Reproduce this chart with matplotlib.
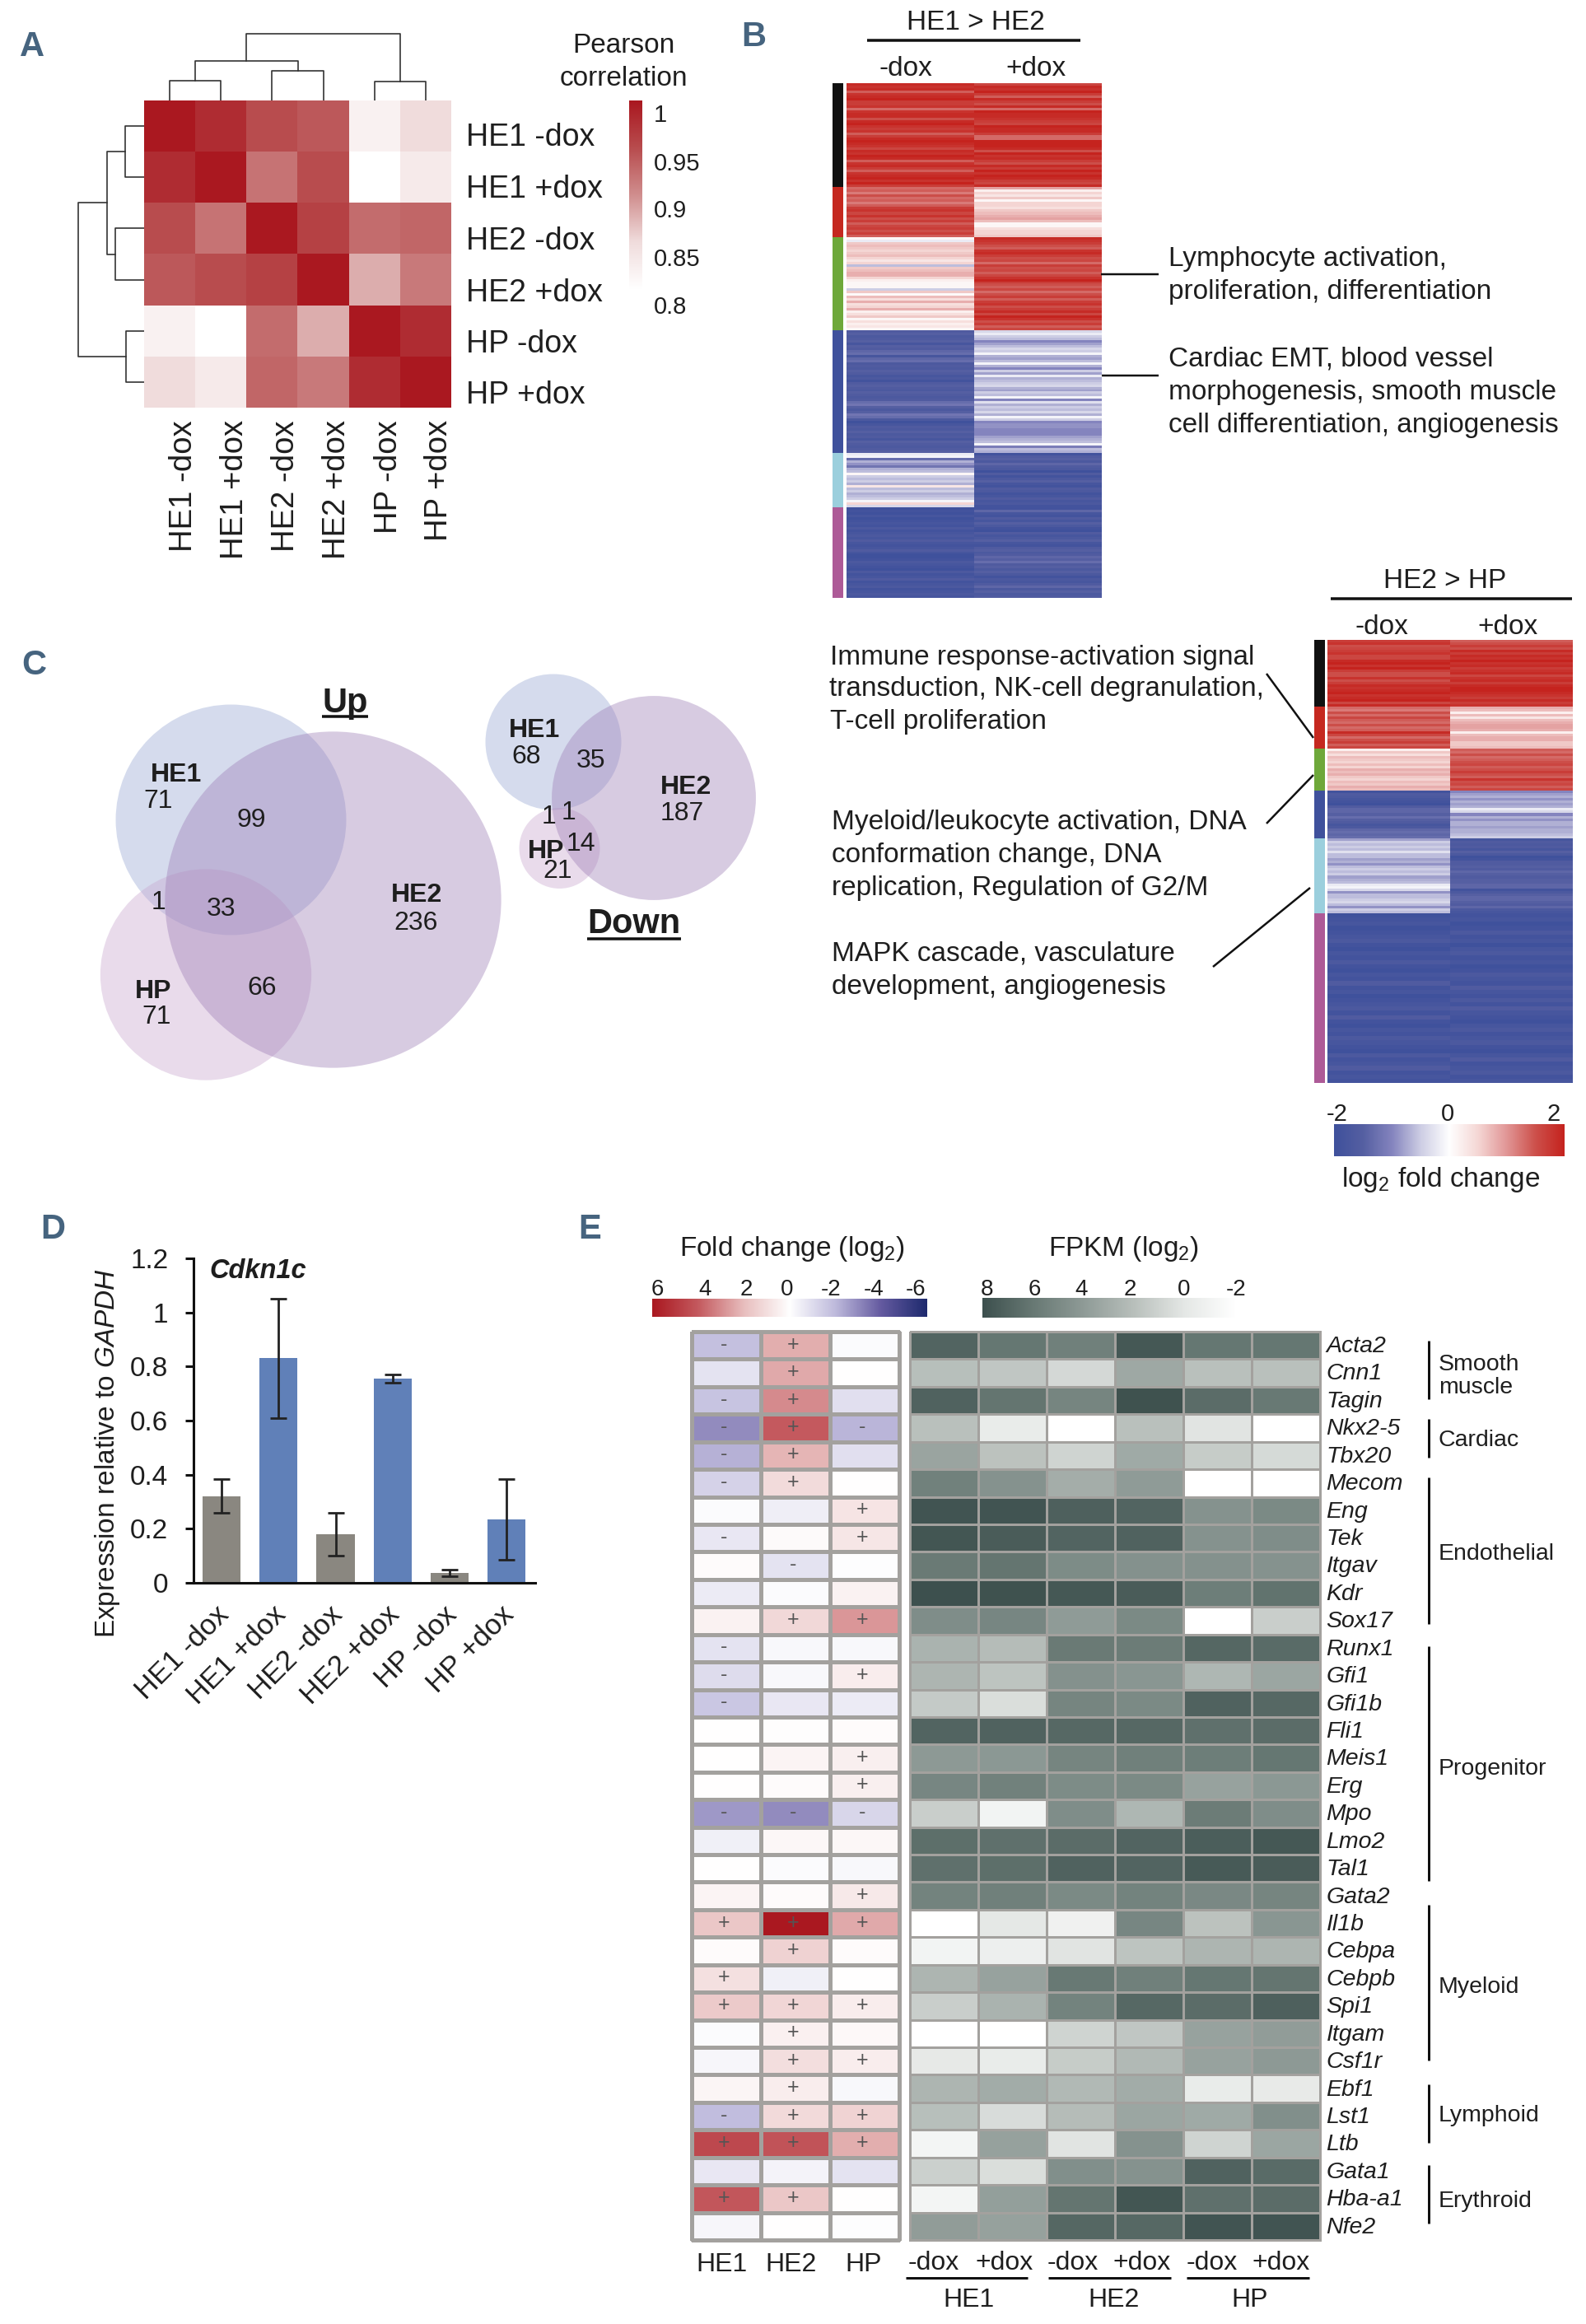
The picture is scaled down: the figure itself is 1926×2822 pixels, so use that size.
"""Composite figure: correlation heatmap, cluster heatmaps, Venn diagrams, qPCR bars, gene table."""
import numpy as np
import matplotlib
matplotlib.use("Agg")
import matplotlib.pyplot as plt
from matplotlib.colors import LinearSegmentedColormap
from matplotlib.patches import Ellipse
from matplotlib.transforms import ScaledTranslation

plt.rcParams['font.family'] = ['Liberation Sans', 'DejaVu Sans']
plt.rcParams['mathtext.fontset'] = 'custom'
plt.rcParams['mathtext.rm'] = 'Liberation Sans'
plt.rcParams['mathtext.it'] = 'Liberation Sans:italic'
plt.rcParams['mathtext.bf'] = 'Liberation Sans:bold'

W, H, DPI = 1926, 2822, 100

# --- Panel A
samples = ['HE1 -dox', 'HE1 +dox', 'HE2 -dox', 'HE2 +dox', 'HP -dox', 'HP +dox']
pearson = [
    [1.00, 0.98, 0.95, 0.94, 0.82, 0.85],
    [0.98, 1.00, 0.92, 0.95, 0.80, 0.83],
    [0.95, 0.92, 1.00, 0.96, 0.925, 0.93],
    [0.94, 0.95, 0.96, 1.00, 0.88, 0.915],
    [0.82, 0.80, 0.925, 0.88, 1.00, 0.98],
    [0.85, 0.83, 0.93, 0.915, 0.98, 1.00],
]
# merge heights of the dendrograms: HE1 pair, HE2 pair, HE1+HE2, HP pair, root
dendro_top = [24, 36, 48, 23, 81]
dendro_left = [23, 35, 45, 22, 80]
pearson_ticks = ['1', '0.95', '0.9', '0.85', '0.8']

# --- Panel B/C cluster heatmaps (log2 fold change per row stripe)
b_sizes = [126, 61, 113, 149, 66, 110]
b_minus = [
    [1.9, 1.8, 1.9, 1.4, 1.8, 1.9, 2.0, 1.7, 1.7, 1.8, 1.3, 1.8, 1.9, 1.9, 1.5, 1.9, 2.0, 1.8, 1.7, 1.8, 1.4,
     1.7, 1.9, 2.0, 1.9, 1.8, 1.6, 1.9, 1.8, 2.0, 1.9, 1.4, 1.8, 1.9, 1.7, 1.4, 1.8, 1.9, 2.0, 1.8, 2.0, 1.7],
    [1.3, 1.4, 1.2, 1.5, 1.3, 1.4, 1.2, 1.4, 1.7, 1.8, 1.6, 1.8, 1.5, 1.7, 1.4, 1.6, 1.7, 1.5, 1.7, 1.4],
    [0.1, -0.2, 0.6, 0.7, 0.6, 0.5, 0.6, 0.7, 0.5, 0.3, 0.5, -0.6, 0.6, 0.7, 0.8, 0.8, 0.5, 0.2, 0.1, 0.1,
     0.1, -0.5, 0.6, 0.05, 0.7, 0.4, 0.8, 0.4, 0.5, 0.8, 0.2, 0.4, 0.6, 0.1, 0.4, 0.2, 0.3, 0.1],
    [-1.6, -1.5, -1.7, -1.6, -1.5, -1.8, -1.5, -1.6, -1.4, -1.3, -1.8, -1.4, -1.3, -1.7, -1.6, -1.7, -1.5, -1.6, -1.8,
     -1.7, -1.9, -1.6, -1.5, -1.6, -1.7, -1.5, -1.6, -1.7, -1.6, -1.3, -1.2, -1.5, -1.7, -1.5, -1.2, -1.3, -1.7, -2.0,
     -1.8, -1.6, -1.7, -1.5, -1.7, -1.6, -1.8, -1.5, -1.6, -1.7, -1.6, -1.5],
    [-0.2, -0.1, -1.3, -0.7, -0.9, -1.2, -0.7, -0.6, 0.1, -0.5, -0.6, -0.5, -0.7, 0.3, -0.6, -0.5, -0.7, -0.6, -0.5,
     -0.1, 0.5, -0.4],
    [-2.0, -1.9, -2.0, -1.8, -2.0, -1.9, -1.8, -1.9, -1.7, -1.9, -1.8, -1.7, -1.8, -1.6, -1.8, -1.9, -1.8, -1.6, -1.8,
     -2.0, -2.0, -1.9, -1.7, -1.8, -1.9, -2.0, -1.7, -1.9, -1.8, -1.6, -1.9, -1.8, -1.7, -1.9, -1.8, -1.7, -1.8],
]
b_plus = [
    [1.6, 1.9, 1.8, 2.0, 1.7, 1.4, 1.9, 1.7, 1.5, 1.9, 1.3, 2.0, 1.9, 1.9, 1.8, 1.7, 1.6, 2.0, 1.9, 1.9, 1.7,
     1.3, 1.3, 2.0, 2.0, 2.0, 1.9, 1.5, 2.0, 1.8, 1.9, 1.7, 1.5, 1.9, 1.7, 2.0, 1.8, 2.0, 1.9, 1.7, 1.6, 1.9],
    [0.9, 0.2, 0.5, 0.3, 0.6, 0.1, 0.5, 0.5, 0.4, 0.6, 0.7, 0.8, 0.9, 0.7, 0.1, 0.1, 0.4, 0.5, 0.5, 0.6],
    [1.9, 1.8, 1.7, 1.5, 1.4, 1.8, 1.9, 1.7, 1.5, 1.6, 1.3, 1.7, 1.5, 1.6, 1.4, 1.6, 1.8, 2.0, 1.7, 1.5,
     1.4, 1.6, 1.3, 1.5, 1.7, 1.4, 1.7, 1.8, 1.5, 1.7, 1.9, 1.6, 2.0, 1.8, 1.5, 1.7, 1.4, 1.6],
    [-0.4, -0.2, -0.5, -0.6, -1.0, -0.8, -0.6, -0.4, -0.5, -0.1, -0.7, -0.8, -0.6, -0.1, -0.7, -1.0, -0.5, -0.8, -0.2,
     -0.7, -0.6, -0.5, -0.4, -0.7, -0.8, -0.5, -0.6, -0.1, -1.0, -0.3, -0.7, -0.5, -0.6, -0.4, -0.7, -0.1, -0.5, -1.0,
     -0.9, -0.9, -1.0, -1.0, -1.0, -0.8, -0.7, -0.6, -0.1, -1.1, -0.6, -0.7],
    [-1.9, -1.6, -1.5, -1.7, -1.4, -1.6, -1.7, -2.0, -1.6, -1.9, -1.7, -1.5, -1.8, -1.9, -1.6, -1.7, -1.9, -1.8, -1.6,
     -1.8, -1.7, -1.9],
    [-1.9, -1.4, -1.8, -1.9, -1.6, -1.8, -1.5, -1.7, -1.9, -2.0, -1.6, -1.8, -1.7, -1.5, -1.8, -1.9, -1.6, -1.5, -1.7,
     -1.6, -1.4, -1.5, -1.3, -1.6, -1.5, -1.7, -1.5, -1.7, -1.9, -1.7, -1.8, -1.6, -1.4, -1.7, -1.5, -1.7, -1.6],
]
c_sizes = [81, 51, 51, 58, 91, 206]
c_minus = [
    [1.7, 1.8, 1.5, 1.6, 1.7, 1.8, 1.6, 1.6, 1.9, 2.0, 1.8, 2.0, 1.7, 1.5, 1.5, 1.8, 1.5, 1.7, 1.9, 1.8, 1.9,
     2.0, 1.8, 1.9, 2.0, 1.6, 1.9],
    [1.3, 1.2, 1.5, 1.3, 1.6, 1.4, 1.3, 1.5, 1.3, 1.4, 1.9, 1.6, 1.3, 1.5, 1.7, 1.4, 1.6],
    [0.2, 0.6, 0.4, 0.7, 0.6, 0.5, 0.7, 0.5, 0.8, 0.7, 0.8, 0.6, 0.5, 0.7, 0.6, 0.8, 0.7],
    [-1.9, -1.6, -1.7, -1.8, -1.9, -2.0, -1.6, -1.4, -1.4, -1.5, -1.3, -1.5, -1.6, -1.8, -1.7, -1.4, -1.3, -1.4, -1.3],
    [-0.8, -0.5, -0.6, -0.5, -0.6, -0.3, -0.6, -0.6, -0.8, -0.7, -0.9, -0.6, -0.5, -0.6, -0.5, -0.8, -0.7, -0.6, -0.2,
     -0.1, -0.4, -0.9, -0.6, -0.6, -0.5, -0.4, -0.6, -0.9, -0.5, -0.6],
    [-2.0, -1.9, -1.8, -2.0, -1.9, -1.8, -1.7, -1.9, -2.0, -1.8, -1.9, -1.7, -1.9, -2.0, -1.8, -1.9, -1.6, -1.9, -1.8,
     -2.0, -1.9, -1.8, -1.7, -1.9, -1.6, -1.9, -2.0, -1.8, -1.9, -1.7, -1.8, -1.9, -2.0, -1.7, -1.9, -1.8, -1.6, -1.9,
     -1.8, -1.9],
]
c_plus = [
    [1.4, 1.5, 1.7, 1.5, 1.9, 1.7, 1.9, 1.8, 2.0, 1.8, 1.9, 1.7, 1.8, 1.9, 1.6, 1.8, 1.9, 1.7, 1.9, 2.0, 2.0,
     1.9, 1.8, 1.7, 1.9, 1.7, 1.8],
    [0.8, 0.7, 0.2, 0.7, 0.3, 0.7, 0.8, 0.9, 0.9, 0.8, 0.2, 0.7, 0.8, 0.8, 0.6, 0.6, 0.7],
    [1.4, 1.3, 1.5, 1.3, 1.4, 1.5, 1.6, 1.4, 1.5, 1.7, 1.5, 1.4, 1.8, 1.5, 1.6, 1.4, 1.6],
    [-1.0, -0.8, -0.7, -0.9, -0.7, -0.8, -0.7, -0.2, -0.4, -1.0, -0.7, -0.9, -0.7, -0.7, -0.8, -0.7, -0.7, -0.6, -0.5],
    [-1.8, -1.6, -1.7, -1.6, -1.8, -1.5, -1.7, -2.0, -1.9, -1.6, -1.6, -1.5, -1.6, -1.4, -1.5, -1.6, -1.5, -1.5, -1.4,
     -1.4, -1.9, -1.7, -1.5, -1.4, -1.4, -1.5, -1.6, -1.4, -1.7, -1.8],
    [-1.9, -1.8, -2.0, -1.9, -1.7, -1.9, -1.8, -2.0, -1.8, -1.7, -1.9, -1.8, -2.0, -1.9, -1.7, -1.8, -1.9, -1.6, -1.8,
     -1.9, -1.7, -1.9, -1.6, -1.8, -1.9, -2.0, -1.8, -1.7, -1.9, -1.8, -1.7, -1.9, -2.0, -1.8, -1.6, -1.9, -1.8, -1.7,
     -1.9, -1.8],
]
cluster_colors = ['#111111', '#c5281f', '#6ea83a', '#3f519c', '#9bcfdd', '#ad5a97']

# --- Panel C Venn counts
up_sets = {'HE1': 204, 'HE2': 434, 'HP': 171}
down_sets = {'HE1': 105, 'HE2': 237, 'HP': 37}

# --- Panel D
expr_means = [0.32, 0.83, 0.18, 0.755, 0.037, 0.235]
expr_err = [0.0625, 0.22, 0.078, 0.015, 0.012, 0.15]
expr_ticks = [0, 0.2, 0.4, 0.6, 0.8, 1, 1.2]
expr_ticklabels = ['0', '0.2', '0.4', '0.6', '0.8', '1', '1.2']

# --- Panel E
genes = ['Acta2', 'Cnn1', 'Tagin', 'Nkx2-5', 'Tbx20', 'Mecom', 'Eng', 'Tek', 'Itgav', 'Kdr', 'Sox17',
         'Runx1', 'Gfi1', 'Gfi1b', 'Fli1', 'Meis1', 'Erg', 'Mpo', 'Lmo2', 'Tal1', 'Gata2', 'Il1b',
         'Cebpa', 'Cebpb', 'Spi1', 'Itgam', 'Csf1r', 'Ebf1', 'Lst1', 'Ltb', 'Gata1', 'Hba-a1', 'Nfe2']
fold_change = [
    [-1.8, 2.3, -0.1], [-0.8, 2.4, 0.0], [-1.7, 3.0, -0.9], [-3.0, 4.0, -2.1], [-2.2, 2.2, -0.9],
    [-1.3, 1.1, 0.0], [-0.1, -0.5, 0.8], [-0.7, 0.15, 0.75], [0.12, -0.8, -0.05], [-0.6, -0.1, 0.4],
    [0.4, 1.2, 2.8], [-0.8, -0.2, -0.2], [-1.0, -0.2, 0.55], [-1.6, -0.7, -0.6], [0.0, 0.05, 0.1],
    [0.0, 0.35, 0.5], [0.0, 0.1, 0.5], [-2.7, -3.0, -1.2], [-0.45, 0.25, 0.25], [0.0, -0.1, -0.2],
    [0.35, 0.1, 0.7], [1.7, 6.0, 2.4], [0.1, 1.4, 0.1], [0.95, -0.45, 0.0], [1.6, 1.25, 0.55],
    [-0.1, 0.45, 0.2], [-0.25, 1.0, 0.55], [0.3, 0.55, -0.2], [-1.9, 1.15, 1.35], [4.5, 4.2, 2.3],
    [-0.7, -0.35, -0.8], [4.1, 1.7, 0.0], [-0.25, 0.0, -0.05],
]
fold_signs = ['-+ ', ' + ', '-+ ', '-+-', '-+ ', '-+ ', '  +', '- +', ' - ', '   ', ' ++',
              '-  ', '- +', '-  ', '   ', '  +', '  +', '---', '   ', '   ', '  +', '+++',
              ' + ', '+  ', '+++', ' + ', ' ++', ' + ', '-++', '+++', '   ', '++ ', '   ']
fpkm = [
    [7.0, 6.1, 5.6, 7.6, 6.1, 6.1], [2.1, 1.7, 0.8, 3.3, 2.0, 2.0], [7.1, 6.2, 5.3, 7.9, 6.6, 6.0],
    [2.0, -0.3, -2.0, 2.0, 0.2, -2.0], [3.5, 1.9, 1.0, 3.2, 1.4, 0.7], [5.5, 4.5, 3.0, 4.0, -2.0, -2.0],
    [7.8, 7.8, 7.2, 7.0, 4.5, 5.0], [7.7, 7.4, 7.0, 7.1, 4.5, 4.8], [5.9, 6.2, 4.9, 4.6, 4.6, 4.5],
    [8.0, 7.9, 7.6, 7.4, 5.7, 6.3], [4.8, 5.2, 4.0, 5.0, -2.0, 1.3], [2.7, 2.2, 5.9, 5.8, 6.9, 6.7],
    [2.6, 1.8, 4.6, 4.3, 2.5, 3.4], [1.5, 0.5, 5.3, 5.0, 7.1, 6.8], [7.0, 7.1, 6.8, 6.8, 6.4, 6.6],
    [4.1, 4.2, 5.3, 5.6, 5.7, 6.1], [5.2, 5.5, 4.9, 5.0, 3.6, 4.2], [1.3, -1.0, 4.8, 2.5, 5.8, 4.8],
    [6.5, 6.4, 6.6, 7.0, 7.3, 7.6], [6.4, 6.5, 7.1, 7.0, 7.5, 7.4], [5.4, 5.6, 5.0, 5.4, 5.1, 5.3],
    [-2.0, 0.0, -0.8, 5.2, 1.9, 4.3], [-1.0, -0.6, 0.2, 1.8, 2.6, 2.6], [2.6, 3.6, 6.0, 5.6, 6.1, 6.2],
    [1.3, 2.7, 5.4, 6.8, 6.6, 7.2], [-2.0, -2.0, 1.0, 1.7, 3.6, 3.9], [-0.1, -0.3, 1.4, 2.4, 3.6, 4.1],
    [2.6, 3.1, 2.4, 3.1, -0.3, -0.2], [2.1, 0.6, 2.2, 3.4, 3.2, 4.7], [-1.1, 3.7, 0.2, 4.5, 1.0, 3.4],
    [1.2, 0.5, 4.7, 4.5, 7.1, 6.7], [-1.1, 3.8, 6.2, 7.7, 6.4, 6.6], [3.9, 3.7, 6.9, 6.8, 7.8, 7.8],
]
gene_groups = ['Smooth\nmuscle', 'Cardiac', 'Endothelial', 'Progenitor', 'Myeloid', 'Lymphoid', 'Erythroid']

BLUE_LETTER = '#46647f'
INK = '#1e1e1e'
GRID = '#a3a19e'

corr_cmap = LinearSegmentedColormap.from_list('corr', [(0.0, '#ffffff'), (0.25, '#f0dcdc'), (0.5, '#d08e8e'),
                                                        (0.75, '#b84c4e'), (1.0, '#aa1820')])
fc_cmap = LinearSegmentedColormap.from_list('fc', [(0.0, '#3f519c'), (0.125, '#555fa2'), (0.25, '#8484be'), (0.375, '#cdcde4'),
                                                    (0.5, '#ffffff'), (0.625, '#f5d7d5'), (0.75, '#e19696'), (0.875, '#cd504b'),
                                                    (1.0, '#c5231e')])
fold_cmap = LinearSegmentedColormap.from_list('fold', [(0.0, '#1e2a6e'), (1 / 6, '#645aa0'), (1 / 3, '#bebadc'), (0.5, '#ffffff'),
                                                        (2 / 3, '#e8bebe'), (5 / 6, '#c45a5f'), (1.0, '#aa1820')])
fpkm_cmap = LinearSegmentedColormap.from_list('fpkm', [(0.0, '#ffffff'), (0.2, '#e5e8e6'), (0.4, '#b9c0bc'),
                                                        (0.6, '#8f9b97'), (0.8, '#687974'), (1.0, '#3d504e')])

fig = plt.figure(figsize=(W / DPI, H / DPI), dpi=DPI, facecolor='white')


def box(x0, y0, x1, y1, **kw):
    # axes from pixel corners, y counted from the top of the image
    ax = fig.add_axes([x0 / W, 1 - y1 / H, (x1 - x0) / W, (y1 - y0) / H], **kw)
    return ax


canvas = fig.add_axes([0, 0, 1, 1], zorder=10)
canvas.set_xlim(0, W)
canvas.set_ylim(H, 0)
canvas.axis('off')
canvas.patch.set_alpha(0)


def label(x, y, s, size=24, ha='left', va='center', **kw):
    kw.setdefault('color', INK)
    return canvas.text(x, y + 3, s, fontsize=size, ha=ha, va=va, **kw)


def rule(x0, y0, x1, y1, px=3.5, color='#111111'):
    canvas.plot([x0, x1], [y0, y1], color=color, lw=px * 0.72, solid_capstyle='butt')


for letter, x, y in [('A', 24, 57), ('B', 900, 45), ('C', 26, 808), ('D', 49, 1493), ('E', 702, 1493)]:
    canvas.text(x, y, letter, fontsize=30, fontweight='bold', color=BLUE_LETTER, ha='left', va='center',
                family=['Liberation Sans Narrow', 'Liberation Sans'])

# ---------------- Panel A
ax = box(175, 122, 548, 495)
ax.imshow(np.array(pearson), cmap=corr_cmap, vmin=0.8, vmax=1.0, aspect='auto', interpolation='nearest')
ax.axis('off')


def dendrogram(ax, h, horizontal=False):
    # tree shape is fixed: (0,1) (2,3) -> joined, (4,5), then root
    h_a, h_b, h_ab, h_c, h_root = h
    a, b, c = 1.0, 3.0, 5.0
    ab = (a + b) / 2
    root = (ab + c) / 2
    segs = [([0.5, 0.5, 1.5, 1.5], [0, h_a, h_a, 0]),
            ([2.5, 2.5, 3.5, 3.5], [0, h_b, h_b, 0]),
            ([a, a, b, b], [h_a, h_ab, h_ab, h_b]),
            ([4.5, 4.5, 5.5, 5.5], [0, h_c, h_c, 0]),
            ([ab, ab, c, c], [h_ab, h_root, h_root, h_c])]
    for pos, hts in segs:
        if horizontal:
            ax.plot(hts, pos, color='#333333', lw=1.2)
        else:
            ax.plot(pos, hts, color='#333333', lw=1.2)
    ax.axis('off')


ax = box(175, 32, 548, 122)
ax.set_xlim(0, 6)
ax.set_ylim(0, 90)
dendrogram(ax, dendro_top)
ax = box(85, 122, 175, 495)
ax.set_ylim(6, 0)
ax.set_xlim(90, 0)
dendrogram(ax, dendro_left, horizontal=True)

row_label_y = [164, 227, 290, 353, 415, 477]
col_label_x = [223, 285, 347, 409, 472, 533]
for s, y, x in zip(samples, row_label_y, col_label_x):
    label(566, y, s, size=27)
    label(x, 507, s, size=27.5, rotation=90, ha='center', va='top')

label(757, 52, 'Pearson', size=24, ha='center')
label(757, 92, 'correlation', size=24, ha='center')
ax = box(764, 122, 780, 351)
ax.imshow(np.linspace(1, 0, 256)[:, None], cmap=corr_cmap, vmin=0, vmax=1, aspect='auto')
ax.axis('off')
for s, y in zip(pearson_ticks, [137, 196, 253, 312, 370]):
    label(794, y, s, size=21)


# ---------------- Panels B and C heatmaps
def cluster_heatmap(x_side, x_heat, y0, y1, sizes, minus, plus):
    total = sum(sizes)
    side = box(x_side[0], y0, x_side[1], y1)
    heat = box(x_heat[0], y0, x_heat[1], y1)
    start = 0
    for size, col, lo, hi in zip(sizes, cluster_colors, minus, plus):
        side.bar(0.5, size, bottom=start, width=1, color=col)
        for c, vals in enumerate((lo, hi)):
            heat.imshow(np.array(vals)[:, None], cmap=fc_cmap, vmin=-2, vmax=2, aspect='auto',
                        interpolation='nearest', extent=[c, c + 1, start + size, start])
        start += size
    side.set_xlim(0, 1)
    side.set_ylim(total, 0)
    side.axis('off')
    heat.set_xlim(0, 2)
    heat.set_ylim(total, 0)
    heat.axis('off')


cluster_heatmap((1011, 1024), (1028, 1337), 101, 726, b_sizes, b_minus, b_plus)
cluster_heatmap((1596, 1609), (1612, 1909), 777, 1315, c_sizes, c_minus, c_plus)

label(1185, 24, 'HE1 > HE2', ha='center')
rule(1053, 48.5, 1312, 48.5)
label(1100, 80, '-dox', ha='center')
label(1258, 80, '+dox', ha='center')
label(1419, 311, 'Lymphocyte activation,')
label(1419, 351, 'proliferation, differentiation')
label(1419, 433, 'Cardiac EMT, blood vessel')
label(1419, 474, 'morphogenesis, smooth muscle')
label(1419, 514, 'cell differentiation, angiogenesis')
rule(1337, 332.5, 1407, 332.5, px=2.5)
rule(1338, 456, 1407, 456, px=2.5)

label(1755, 703, 'HE2 > HP', ha='center')
rule(1616, 727, 1909, 727)
label(1678, 758, '-dox', ha='center')
label(1831, 758, '+dox', ha='center')
label(1008, 795, 'Immune response-activation signal')
label(1007, 834, 'transduction, NK-cell degranulation,')
label(1008, 874, 'T-cell proliferation')
label(1010, 995, 'Myeloid/leukocyte activation, DNA')
label(1010, 1036, 'conformation change, DNA')
label(1010, 1076, 'replication, Regulation of G2/M')
label(1010, 1155, 'MAPK cascade, vasculature')
label(1010, 1195, 'development, angiogenesis')
rule(1538, 818, 1595, 896, px=2.5)
rule(1538, 1000, 1595, 941, px=2.5)
rule(1473, 1174, 1591, 1078, px=2.5)

ax = box(1620, 1365, 1900, 1404)
ax.imshow(np.linspace(-2, 2, 256)[None, :], cmap=fc_cmap, vmin=-2, vmax=2, aspect='auto')
ax.axis('off')
for s, x in zip(['-2', '0', '2'], [1624, 1758, 1887]):
    label(x, 1350, s, size=21, ha='center')
label(1750, 1430, 'log$_2$ fold change', ha='center')

# ---------------- Panel C Venn diagrams
VENN_COLORS = {'HE1': (150 / 255, 167 / 255, 210 / 255), 'HE2': (157 / 255, 125 / 255, 182 / 255),
               'HP': (200 / 255, 167 / 255, 207 / 255)}


def venn(sets, centres, scale):
    # circle area follows the size of the set
    for name in ['HE1', 'HP', 'HE2']:
        d = scale * np.sqrt(sets[name])
        canvas.add_patch(Ellipse(centres[name], d, d, facecolor=VENN_COLORS[name], alpha=0.4, lw=0))


venn(up_sets, {'HE1': (280.5, 995.5), 'HE2': (404.5, 1092.5), 'HP': (250, 1183.5)}, 19.6)
venn(down_sets, {'HE1': (672, 901), 'HE2': (794, 969), 'HP': (679.5, 1030)}, 16.1)

for x, y, s, bold in [(214, 938, 'HE1', True), (192, 970, '71', False), (305, 993, '99', False), (193, 1093, '1', False),
                      (269, 1101, '33', False), (506, 1084, 'HE2', True), (505, 1118, '236', False), (186, 1201, 'HP', True),
                      (190, 1232, '71', False), (318, 1197, '66', False),
                      (649, 884, 'HE1', True), (639, 916, '68', False), (718, 921, '35', False), (833, 953, 'HE2', True),
                      (828, 985, '187', False), (666, 989, '1', False), (690, 984, '1', False), (663, 1031, 'HP', True),
                      (705, 1022, '14', False), (677, 1055, '21', False)]:
    label(x, y, s, size=23, ha='center', fontweight='bold' if bold else 'normal')
label(419, 851, 'Up', size=30, ha='center', fontweight='bold')
rule(391, 870, 447, 870)
label(770, 1119, 'Down', size=30, ha='center', fontweight='bold')
rule(713, 1140, 827, 1140)

# ---------------- Panel D bars
ax = box(235, 1528, 650, 1922)
positions = np.arange(len(samples))
bar_colors = ['#8a8780', '#6080b8'] * 3
ax.bar(positions, expr_means, width=0.665, color=bar_colors)
ax.errorbar(positions, expr_means, yerr=expr_err, fmt='none', ecolor='#222222', elinewidth=2.0,
            capsize=7.2, capthick=2.0, zorder=5)
ax.set_xlim(-0.49, 5.5)
ax.set_ylim(0, 1.2)
ax.set_yticks(expr_ticks)
ax.set_yticklabels(expr_ticklabels, fontsize=24, color=INK)
ax.set_xticks(positions)
ax.set_xticklabels(samples, fontsize=25, color=INK, rotation=45, ha='right', va='top', rotation_mode='anchor')
ax.tick_params(axis='y', length=7.2, width=2.2, pad=15, color='#111111')
ax.tick_params(axis='x', length=0, pad=16)
shift_left = ScaledTranslation(-8 / DPI, 0, fig.dpi_scale_trans)
for tick_text in ax.get_xticklabels():
    tick_text.set_transform(tick_text.get_transform() + shift_left)
for name in ['top', 'right']:
    ax.spines[name].set_visible(False)
for name in ['left', 'bottom']:
    ax.spines[name].set_linewidth(2.2)
    ax.spines[name].set_color('#111111')
label(254, 1540, 'Cdkn1c', size=23.5, fontweight='bold', style='italic')
label(131, 1761, 'Expression relative to $\\mathit{GAPDH}$', size=24, rotation=90, ha='center')

# ---------------- Panel E tables
label(962, 1514, 'Fold change (log$_2$)', size=24, ha='center')
label(1364, 1514, 'FPKM (log$_2$)', size=24, ha='center')

ax = box(792, 1577, 1125, 1599)
ax.imshow(np.linspace(6, -6, 256)[None, :], cmap=fold_cmap, vmin=-6, vmax=6, aspect='auto')
ax.axis('off')
for s, x in zip(['6', '4', '2', '0', '-2', '-4', '-6'], [798, 856, 906, 956, 1009, 1061, 1112]):
    label(x, 1563, s, size=20, ha='center')

ax = box(1193, 1576, 1501, 1600)
ax.imshow(np.linspace(8, -2, 256)[None, :], cmap=fpkm_cmap, vmin=-2, vmax=8, aspect='auto')
ax.axis('off')
for s, x in zip(['8', '6', '4', '2', '0', '-2'], [1198, 1256, 1313, 1372, 1438, 1501]):
    label(x, 1563, s, size=20, ha='center')

n_rows = len(genes)
ax = box(840, 1617, 1092, 2720)
ax.pcolormesh(np.array(fold_change), cmap=fold_cmap, vmin=-6, vmax=6, edgecolors=GRID, linewidth=2.2, clip_on=False)
ax.set_ylim(n_rows, 0)
ax.axis('off')
for r, row_signs in enumerate(fold_signs):
    for c, sign in enumerate(row_signs):
        if sign != ' ':
            ax.text(c + 0.46, r + 0.47, sign, fontsize=18, ha='center', va='center', color='#555555')

ax = box(1105, 1617, 1603, 2720)
ax.pcolormesh(np.array(fpkm), cmap=fpkm_cmap, vmin=-2, vmax=8, edgecolors=GRID, linewidth=1.8, clip_on=False)
ax.set_ylim(n_rows, 0)
ax.axis('off')
for r, g in enumerate(genes):
    ax.text(1.015, r + 0.54, g, transform=ax.get_yaxis_transform(), fontsize=20.5, style='italic', color=INK,
            ha='left', va='center')

group_spans = [(1628, 1699), (1723, 1770), (1794, 1972), (1999, 2284), (2313, 2502), (2531, 2602), (2629, 2700)]
group_label_y = [1668, 1746, 1884, 2145, 2410, 2566, 2670]
for g, (y0, y1), y in zip(gene_groups, group_spans, group_label_y):
    rule(1735, y0, 1735, y1, px=3)
    label(1747, y, g, size=20.5, linespacing=1.15)

for s, x in zip(['HE1', 'HE2', 'HP'], [876, 961, 1049]):
    label(x, 2747, s, size=23, ha='center')
for s, x in zip(['-dox', '+dox'] * 3, [1134, 1220, 1303, 1387, 1472, 1556]):
    label(x, 2745, s, size=23, ha='center')
for (x0, x1), s, x in zip([(1100, 1248), (1273, 1422), (1441, 1590)], ['HE1', 'HE2', 'HP'], [1177, 1353, 1518]):
    rule(x0, 2765.5, x1, 2765.5, px=3)
    label(x, 2790, s, size=23, ha='center')

fig.savefig('out.png', dpi=DPI, facecolor='white')
plt.close(fig)
